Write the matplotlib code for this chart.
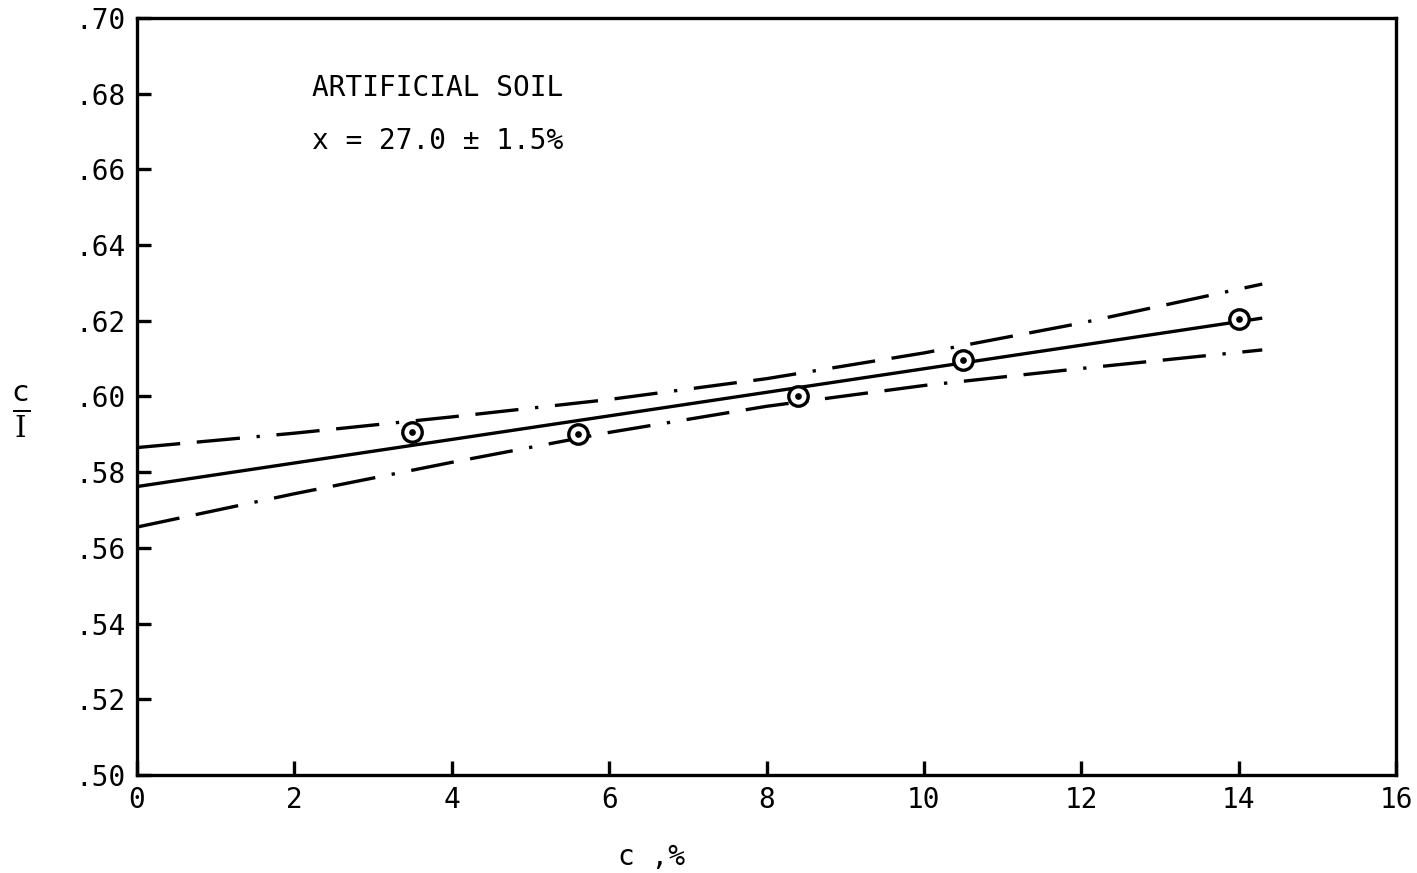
import matplotlib
matplotlib.use('Agg')
import matplotlib.pyplot as plt
import numpy as np

# measured points (c, %) vs c/I
pts_x = [3.5, 5.6, 8.4, 10.5, 14.0]
pts_y = [0.5905, 0.5900, 0.6000, 0.6097, 0.6205]

# fitted line (end points)
fit_x = [0.0, 14.3]
fit_y = [0.5762, 0.6207]

# confidence band
band_x = [0, 2, 4, 6, 8, 10, 12, 14.3]
band_upper = [0.5865, 0.5903, 0.5946, 0.5992, 0.6047, 0.6115, 0.6194, 0.6297]
band_lower = [0.5655, 0.5743, 0.5826, 0.5905, 0.5974, 0.6029, 0.6074, 0.6123]

x_ticks = [0, 2, 4, 6, 8, 10, 12, 14, 16]
y_ticks = [0.50, 0.52, 0.54, 0.56, 0.58, 0.60, 0.62, 0.64, 0.66, 0.68, 0.70]
y_tick_labels = [".50", ".52", ".54", ".56", ".58", ".60", ".62", ".64", ".66", ".68", ".70"]

plt.rcParams['font.family'] = 'DejaVu Sans Mono'
plt.rcParams['mathtext.fontset'] = 'dejavuserif'

fig = plt.figure(figsize=(14.17, 8.73), dpi=100)
ax = fig.add_axes([0.0967, 0.1123, 0.8885, 0.8671])

lw = 2.4
ax.plot(fit_x, fit_y, color='black', lw=lw, solid_capstyle='butt')
dash = (13, 5, 13, 5, 1, 5)
ax.plot(band_x, band_upper, color='black', lw=lw, dashes=dash)
ax.plot(band_x, band_lower, color='black', lw=lw, dashes=dash)

ax.plot(pts_x, pts_y, 'o', ms=14, mfc='white', mec='black', mew=2.4, zorder=3)
ax.plot(pts_x, pts_y, 'o', ms=3.8, color='black', zorder=4)

ax.set_xlim(0, 16)
ax.set_ylim(0.50, 0.70)
ax.set_xticks(x_ticks)
ax.set_xticklabels([str(t) for t in x_ticks])
ax.set_yticks(y_ticks)
ax.set_yticklabels(y_tick_labels)
ax.tick_params(direction='in', length=10, width=2.4, labelsize=20, pad=8)

for s in ax.spines.values():
    s.set_linewidth(2.4)

fig.text(312 / 1417, 1 - 88 / 873, "ARTIFICIAL SOIL",
         fontsize=20, va='center', ha='left')
fig.text(312 / 1417, 1 - 141 / 873, "x = 27.0 \u00b1 1.5%",
         fontsize=20, va='center', ha='left')

fig.text(21 / 1417, 1 - 412 / 873, r"$\frac{\mathsf{c}}{\mathrm{I}}$",
         fontsize=30, ha='center', va='center')
fig.text(652 / 1417, 1 - 857 / 873, "c ,%", fontsize=20, ha='center', va='center')

plt.savefig("out.png", dpi=100)
